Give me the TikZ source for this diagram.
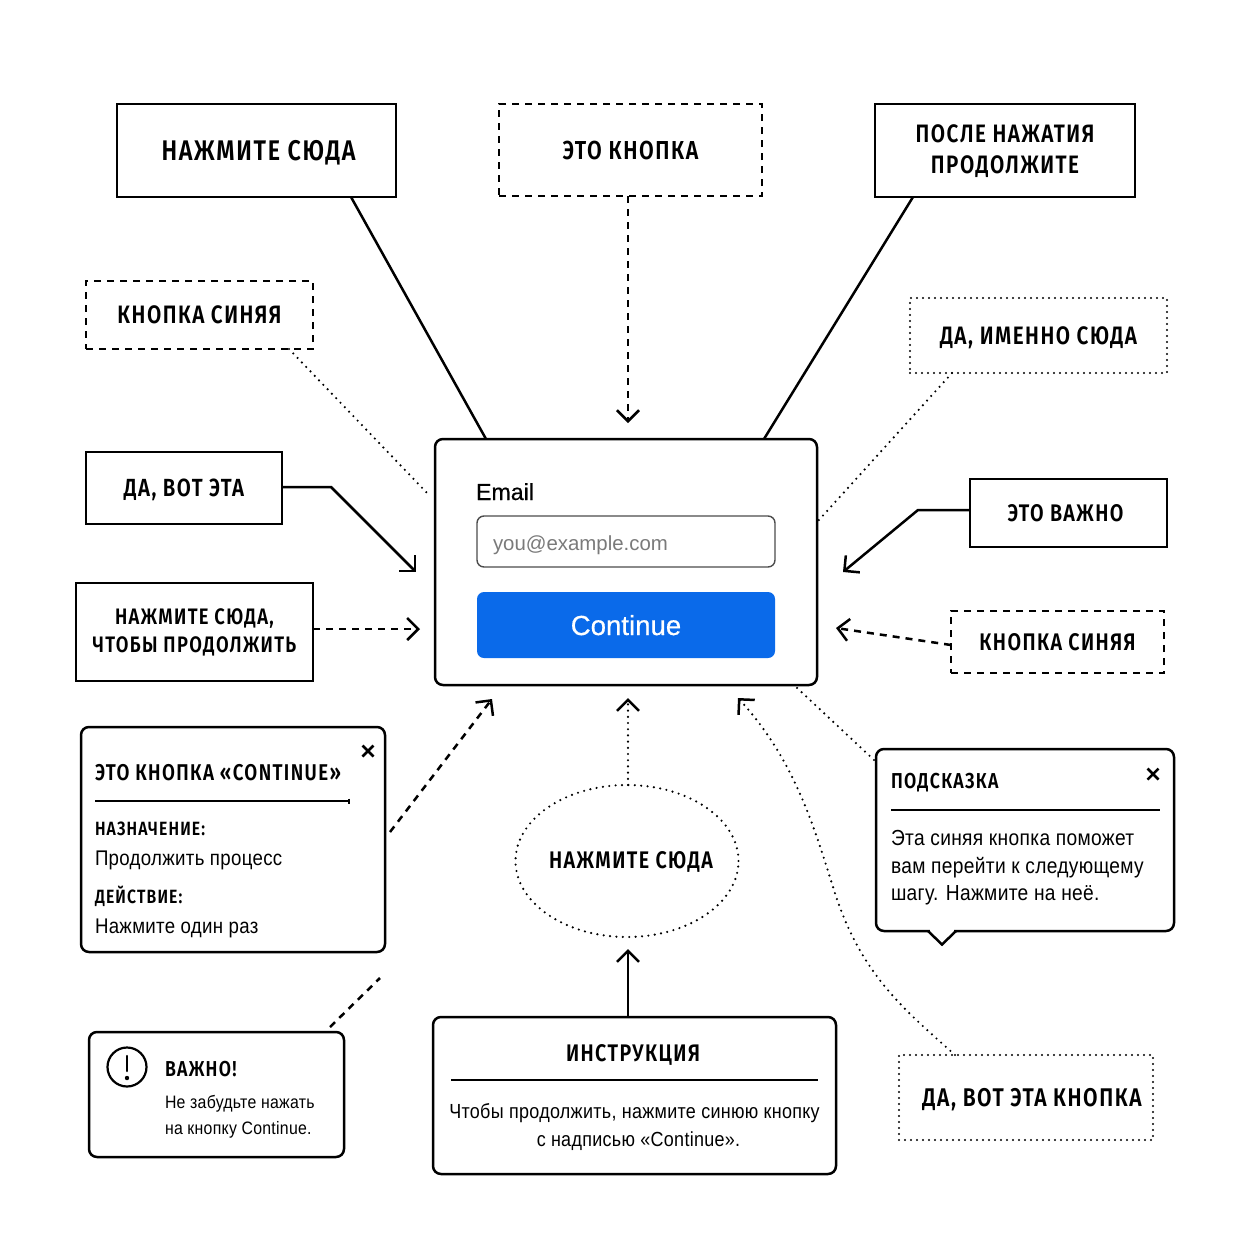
\documentclass[tikz,border=0pt]{standalone}
\usepackage{fontspec}
\setmainfont{Liberation Sans}
\newfontfamily\hdfont{Fira Sans}[FakeStretch=0.82,LetterSpace=6,UprightFont=* SemiBold,BoldFont=* Bold]
\newfontfamily\bodyfont{Liberation Sans}[FakeStretch=0.88,LetterSpace=1.5]
\newfontfamily\uifont{Liberation Sans}
\newfontfamily\uimed{Liberation Sans}[FakeBold=0.5]
\usetikzlibrary{arrows.meta,calc,shapes.geometric}
\newcommand{\hd}[2]{\hdfont\fontsize{#1}{#2}\selectfont}
\newcommand{\bd}[2]{\bodyfont\fontsize{#1}{#2}\selectfont}
\definecolor{btn}{HTML}{0A6AEA}
\tikzset{
  boxb/.style={draw=black,fill=white,rectangle,inner sep=0pt,outer sep=0pt,align=center,line width=1.25pt},
  sq/.style={boxb,text=black},
  dsh/.style={boxb,dash pattern=on 3.5pt off 3pt},
  dtt/.style={boxb,line cap=round,line width=1.1pt,dash pattern=on 0pt off 3pt},
  rnd/.style={boxb,rounded corners=4pt},
  one/.style={text depth=0pt},
  txt/.style={inner sep=0pt,outer sep=0pt,anchor=base west},
  ctxt/.style={inner sep=0pt,outer sep=0pt,anchor=base,align=center},
  dline/.style={dash pattern=on 3.5pt off 3pt},
  dotl/.style={line cap=round,line width=1.2pt,dash pattern=on 0pt off 3.1pt},
  arr/.style={-{Straight Barb[length=5.5pt,width=11pt,line width=1.25pt]}},
}
\begin{document}
\begin{tikzpicture}[x=0.5pt,y=-0.5pt,line width=1.25pt]
\useasboundingbox (0,0) rectangle (1254,1254);
% connector free ends
\coordinate (eB) at (628,423);
\coordinate (eF) at (416,572);
\coordinate (eG) at (843,572);
\coordinate (eH) at (420,629);
\coordinate (eI) at (836,628);
\coordinate (eJ) at (492,699);
\coordinate (eK) at (628,698);
\coordinate (eN) at (628,949);
\coordinate (eO) at (738,698);
\coordinate (eM) at (380,978);
\coordinate (eJs) at (390,832);
\coordinate (eD) at (428,494);

% main card
\node[rnd,minimum width=191pt,minimum height=123pt] (main) at (626,562) {};
\node[txt,font=\uimed\fontsize{11.6}{13}\selectfont] (email) at (476,500) {Email};
\node[draw=black!70,line width=.7pt,rounded corners=3.5pt,minimum width=149pt,minimum height=25.5pt,inner sep=0pt,outer sep=0pt] (input) at (626,541.5) {};
\node[txt,text=black!52,font=\uifont\fontsize{10.2}{12}\selectfont] (ph) at (493,550) {you@example.com};
\node[fill=btn,rounded corners=3.5pt,minimum width=149pt,minimum height=33pt,inner sep=0pt,outer sep=0pt] (button) at (626,625) {};
\node[ctxt,text=white,font=\uimed\fontsize{13.8}{15}\selectfont] (cont) at (626,635) {Continue};

% callouts
\node[sq,one,minimum width=139.5pt,minimum height=46.5pt,font=\hd{14.2}{16}] (a) at (256.5,150.5) {\hspace*{2pt}НАЖМИТЕ СЮДА};
\node[dsh,one,minimum width=131.5pt,minimum height=46pt,font=\hd{13}{15}] (b) at (630.5,150) {ЭТО КНОПКА};
\node[sq,minimum width=130pt,minimum height=46.5pt,font=\hd{12.6}{15.5}] (c) at (1005,150.5) {\rule{0pt}{10pt}ПОСЛЕ НАЖАТИЯ\\ПРОДОЛЖИТЕ};
\node[dsh,one,minimum width=113.5pt,minimum height=34pt,font=\hd{12.6}{15}] (d) at (199.5,315) {КНОПКА СИНЯЯ};
\node[dtt,one,minimum width=128.5pt,minimum height=37.5pt,font=\hd{12.6}{15}] (e) at (1038.5,335.5) {ДА, ИМЕННО СЮДА};
\node[sq,one,minimum width=98pt,minimum height=36pt,font=\hd{12.4}{15}] (f) at (184,488) {ДА, ВОТ ЭТА};
\node[sq,one,minimum width=98.5pt,minimum height=34pt,font=\hd{12}{15}] (g) at (1068.5,513) {\hspace*{-3pt}ЭТО ВАЖНО};
\node[sq,minimum width=118.5pt,minimum height=49pt,font=\hd{11.2}{14}] (h) at (194.5,632) {НАЖМИТЕ СЮДА,\\ЧТОБЫ ПРОДОЛЖИТЬ};
\node[dsh,one,minimum width=106.5pt,minimum height=31pt,font=\hd{12}{15}] (i) at (1057.5,642) {КНОПКА СИНЯЯ};
\node[dtt,one,minimum width=127pt,minimum height=42.5pt,font=\hd{12.8}{15}] (o) at (1026,1097.5) {\hspace*{6pt}ДА, ВОТ ЭТА КНОПКА};
\node[ellipse,draw=black,fill=white,line cap=round,line width=1.2pt,dash pattern=on 0pt off 3.2pt,minimum width=111.5pt,minimum height=76pt,inner sep=0pt,outer sep=0pt] (k) at (627,861) {};
\node[ctxt,font=\hd{12}{15}] (kt) at (631,868) {НАЖМИТЕ СЮДА};

% connectors
\draw ($(a.south)+(94.5,0)$) -- ($(main.north)+(-140,0)$);
\draw[dline,arr] ($(b.south)+(-2.5,0)$) -- (eB);
\draw ($(c.south)+(-92,0)$) -- ($(main.north)+(138,0)$);
\draw[dotl] ($(d.south)+(89.5,0)$) -- (eD);
\draw[dotl] ($(e.south)+(-86.5,0)$) -- ($(main.east)+(1,-41)$);
\draw[arr] ($(f.east)+(0,-1)$) -- (331,487) -- (eF);
\draw[arr] ($(g.west)+(0,-3)$) -- (918,510) -- (eG);
\draw[dline,arr] ($(h.east)+(0,-3)$) -- (eH);
\draw[dline,arr] ($(i.west)+(0,3)$) -- (eI);
\draw[dotl,arr] ($(k.north)+(1,0)$) -- (eK);

% tooltip left
\node[rnd,minimum width=152pt,minimum height=112.5pt] (j) at (233,839.5) {};
\draw (362.5,745.5) -- (373.5,756.5) (373.5,745.5) -- (362.5,756.5);
\node[txt,font=\hd{11.4}{14}] (j1) at (95,780) {ЭТО КНОПКА «CONTINUE»};
\draw[line width=1pt] (95,801) -- (349,801) (349,798.5) -- (349,803.5);
\node[txt,font=\hd{9.6}{12}] (j2) at (95,835) {НАЗНАЧЕНИЕ:};
\node[txt,font=\bd{10.6}{12}] (j3) at (95,865.5) {Продолжить процесс};
\node[txt,font=\hd{9.6}{12}] (j4) at (95,903) {ДЕЙСТВИЕ:};
\node[txt,font=\bd{10.6}{12}] (j5) at (95,933) {Нажмите один раз};
\draw[dline,arr] (eJs) -- (eJ);

% tooltip right
\node[rnd,minimum width=149pt,minimum height=91pt] (l) at (1025,840) {};
\fill[white] ($(l.south)+(-95,-2)$) rectangle ($(l.south)+(-71,2)$);
\draw[line join=miter] ($(l.south)+(-97,0)$) -- ($(l.south)+(-83,13.5)$) -- ($(l.south)+(-69,0)$);
\draw (1147.5,768.5) -- (1158.5,779.5) (1158.5,768.5) -- (1147.5,779.5);
\node[txt,font=\hd{10.8}{13}] (l1) at (891,788.5) {ПОДСКАЗКА};
\draw[line width=1pt] (891,810) -- (1160,810);
\node[txt,font=\bd{10.9}{12}] (l2) at (891,845) {Эта синяя кнопка поможет};
\node[txt,font=\bd{10.9}{12}] (l3) at (891,873) {вам перейти к следующему};
\node[txt,font=\bd{10.9}{12}] (l4) at (891,900) {шагу. Нажмите на неё.};
\draw[dotl] ($(l.north west)+(-2,11)$) -- ($(main.south east)+(-22,1)$);

% important
\node[rnd,minimum width=127.5pt,minimum height=62.5pt] (m) at (216.5,1094.5) {};
\node[circle,draw=black,line width=1.1pt,minimum width=19.5pt,inner sep=0pt,outer sep=0pt] (mc) at (127,1067) {};
\draw[line cap=round] (127,1056) -- (127,1071);
\fill (127,1078) circle (1.1pt);
\node[txt,font=\hd{10.8}{13}] (m1) at (165,1076.5) {ВАЖНО!};
\node[txt,font=\bd{9}{11}] (m2) at (165,1108) {Не забудьте нажать};
\node[txt,font=\bd{9}{11}] (m3) at (165,1134) {на кнопку Continue.};
\draw[dline] ($(m.north)+(113.5,-5)$) -- (eM);

% instruction
\node[rnd,minimum width=201.5pt,minimum height=78.5pt] (n) at (634.5,1095.5) {};
\node[ctxt,font=\hd{12}{15}] (n1) at (633,1061) {ИНСТРУКЦИЯ};
\draw (451,1080) -- (818,1080);
\node[ctxt,font=\bd{10.2}{12}] (n2) at (634.5,1118) {Чтобы продолжить, нажмите синюю кнопку};
\node[ctxt,font=\bd{10.2}{12}] (n3) at (638.5,1146) {с надписью «Continue».};
\draw[arr] ($(n.north)+(-6.5,0)$) -- (eN);

% curved dotted
\draw[dotl,arr] ($(o.north)+(-71,0)$) .. controls (905,1010) and (860,975) .. (833,887) .. controls (815,830) and (795,760) .. (eO);
\end{tikzpicture}
\end{document}
